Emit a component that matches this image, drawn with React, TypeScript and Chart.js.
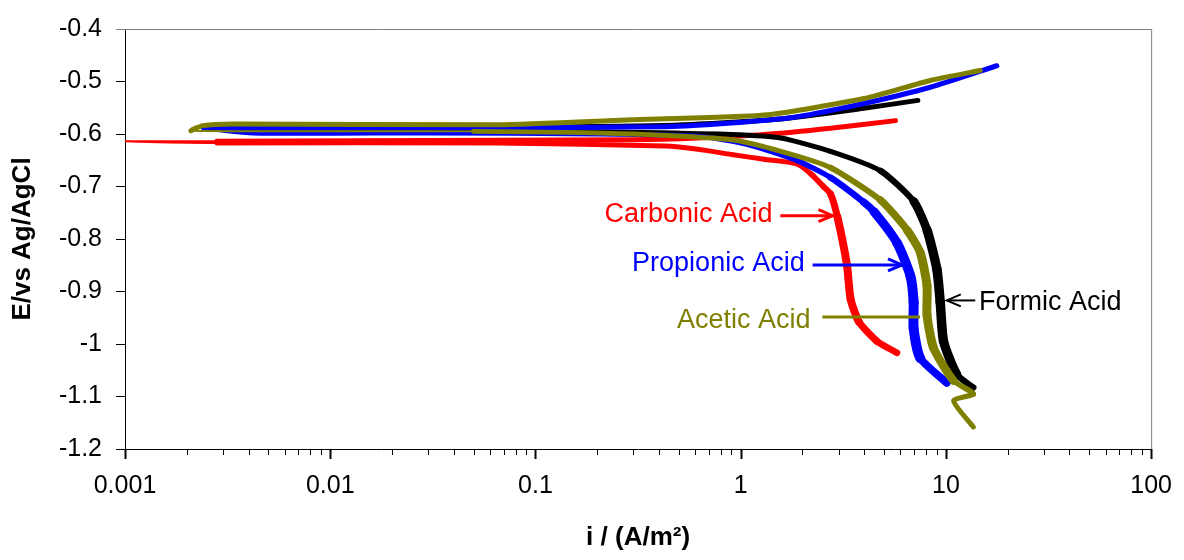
import React, { useEffect, useRef } from 'react';
import { Chart, registerables } from 'chart.js';

Chart.register(...registerables);

// ---- Data (current density i in A/m², potential E vs Ag/AgCl) ----
const acidNames = ['Acetic Acid', 'Propionic Acid', 'Formic Acid', 'Carbonic Acid'];

const aceticI = [13.6, 10.9, 13.6, 10.9, 8.71, 8.09, 8.09, 7.5, 6.47, 4.8, 2.74, 1.57, 0.9, 0.3, 0.05, 0.0021, 0.0024, 0.0034, 0.066, 0.294, 1.3, 3.98, 8.39, 14.7];
const aceticE = [-1.158, -1.108, -1.095, -1.07, -1.008, -0.945, -0.889, -0.826, -0.783, -0.726, -0.664, -0.633, -0.611, -0.6, -0.595, -0.594, -0.584, -0.581, -0.5825, -0.573, -0.564, -0.5325, -0.498, -0.479];

const propionicI = [10.1, 7.5, 6.96, 6.96, 6.71, 5.78, 4.46, 3.98, 2.74, 1.89, 1.08, 0.62, 0.2, 0.03, 0.0042, 0.0024, 0.0035, 0.05, 0.43, 0.9, 1.89, 3.98, 8.39, 17.7];
const propionicE = [-1.074, -1.027, -0.97, -0.92, -0.87, -0.8075, -0.748, -0.73, -0.683, -0.651, -0.62, -0.6045, -0.6, -0.598, -0.598, -0.588, -0.588, -0.588, -0.586, -0.579, -0.567, -0.542, -0.511, -0.47];

const formicI = [13.6, 11.3, 9.74, 9.38, 9.04, 8.09, 6.96, 4.8, 2.74, 1.57, 0.9, 0.3, 0.05, 0.0035, 0.01, 0.1, 0.5, 1.5, 3.98, 7.3];
const formicE = [-1.083, -1.058, -0.995, -0.92, -0.858, -0.783, -0.728, -0.67, -0.633, -0.6075, -0.601, -0.597, -0.592, -0.59, -0.589, -0.587, -0.583, -0.572, -0.551, -0.536];

const carbonicI = [5.78, 4.62, 3.77, 3.43, 3.3, 2.96, 2.74, 2.53, 2.2, 1.89, 1.3, 0.9, 0.62, 0.43, 0.066, 0.0028, 0.0009, 0.0028, 0.066, 0.3, 0.62, 1.3, 2.74, 5.68];
const carbonicE = [-1.017, -0.995, -0.958, -0.914, -0.851, -0.758, -0.714, -0.7, -0.676, -0.657, -0.648, -0.639, -0.629, -0.623, -0.617, -0.617, -0.614, -0.614, -0.612, -0.611, -0.6075, -0.601, -0.589, -0.5745];

// Axis ticks
const xDecades = [0.001, 0.01, 0.1, 1, 10];
const xMajorLabels = ['0.001', '0.01', '0.1', '1', '10', '100'];
const xMajorValues = [0.001, 0.01, 0.1, 1, 10, 100];
const yTickValues = [-1.2, -1.1, -1.0, -0.9, -0.8, -0.7, -0.6, -0.5, -0.4];

// Annotation labels: text anchor (i, E), arrow tail/tip i, arrow E
const labelTexts = ['Carbonic Acid', 'Propionic Acid', 'Acetic Acid', 'Formic Acid'];
const labelTextI = [1.43, 2.05, 2.19, 14.5];
const labelTextE = [-0.767, -0.8615, -0.97, -0.936];
const arrowTailI = [1.56, 2.24, 2.5, 13.9];
const arrowTipI = [2.8, 6.11, 7.48, 10.1];
const arrowE = [-0.7557, -0.8495, -0.9484, -0.917];

const COLORS = ['#808000', '#0000FF', '#000000', '#FF0000'];
const LABEL_COLORS = ['#FF0000', '#0000FF', '#808000', '#000000'];
const LABEL_ALIGN: CanvasTextAlign[] = ['right', 'right', 'right', 'left'];
const LABEL_HEAD = [true, true, false, true];

const FONT = '"Liberation Sans", Arial, Helvetica, sans-serif';

function buildXTicks(): number[] {
  const out: number[] = [];
  for (const d of xDecades) {
    for (let m = 1; m <= 9; m++) out.push(Number((m * d).toPrecision(3)));
  }
  out.push(100);
  return out;
}

const framePlugin = {
  id: 'frameAndTicks',
  afterDraw(chart: any) {
    const { ctx, chartArea, scales } = chart;
    const x = scales.x;
    ctx.save();
    ctx.strokeStyle = '#808080';
    ctx.lineWidth = 1;
    ctx.beginPath();
    ctx.moveTo(chartArea.left, chartArea.top + 0.5);
    ctx.lineTo(chartArea.right + 0.5, chartArea.top + 0.5);
    ctx.lineTo(chartArea.right + 0.5, chartArea.bottom);
    ctx.stroke();
    ctx.strokeStyle = '#000000';
    for (const t of x.ticks) {
      const px = Math.round(x.getPixelForValue(t.value)) + 0.5;
      const isMajor = xMajorValues.some((v) => Math.abs(v - t.value) < v * 1e-6);
      ctx.lineWidth = isMajor ? 2 : 1;
      ctx.beginPath();
      ctx.moveTo(px, chartArea.bottom);
      ctx.lineTo(px, chartArea.bottom + (isMajor ? 10 : 6));
      ctx.stroke();
    }
    ctx.restore();
  },
};

const annotationPlugin = {
  id: 'acidLabels',
  afterDatasetsDraw(chart: any) {
    const { ctx, scales } = chart;
    const x = scales.x;
    const y = scales.y;
    ctx.save();
    labelTexts.forEach((text, k) => {
      const color = LABEL_COLORS[k];
      const ay = y.getPixelForValue(arrowE[k]);
      const x0 = x.getPixelForValue(arrowTailI[k]);
      const x1 = x.getPixelForValue(arrowTipI[k]);
      ctx.strokeStyle = color;
      ctx.lineWidth = k === 3 ? 2 : 3;
      ctx.lineCap = 'butt';
      ctx.beginPath();
      ctx.moveTo(x0, ay);
      ctx.lineTo(x1, ay);
      ctx.stroke();
      if (LABEL_HEAD[k]) {
        const dir = x1 > x0 ? 1 : -1;
        ctx.beginPath();
        ctx.moveTo(x1 - dir * 14, ay - 6);
        ctx.lineTo(x1, ay);
        ctx.lineTo(x1 - dir * 14, ay + 6);
        ctx.stroke();
      }
      ctx.fillStyle = color;
      ctx.font = `27px ${FONT}`;
      ctx.textAlign = LABEL_ALIGN[k];
      ctx.textBaseline = 'alphabetic';
      ctx.fillText(text, x.getPixelForValue(labelTextI[k]), y.getPixelForValue(labelTextE[k]));
    });
    ctx.restore();
  },
};

function pts(xs: number[], ys: number[]) {
  return xs.map((v, i) => ({ x: v, y: ys[i] }));
}

function clamp01(v: number) {
  return Math.max(0, Math.min(1, v));
}

export default function App() {
  const ref = useRef<HTMLCanvasElement | null>(null);

  useEffect(() => {
    if (!ref.current) return;
    const series = [
      pts(aceticI, aceticE),
      pts(propionicI, propionicE),
      pts(formicI, formicE),
      pts(carbonicI, carbonicE),
    ];
    const thin = [
      (p0: any, p1: any) => p0.x < 0.06 && p1.x < 0.06 && p0.y <= -0.594 && p1.y <= -0.594,
      () => false,
      () => false,
      (p0: any, p1: any) => p0.x < 0.003 && p1.x < 0.003,
    ];
    const maxExtra = [4, 5, 4.5, 3];
    const segWidth = (k: number) => (c: any) => {
      const a = c.p0.parsed;
      const b = c.p1.parsed;
      if (thin[k](a, b)) return 2;
      const dx = c.p1.x - c.p0.x;
      const dy = c.p1.y - c.p0.y;
      const len = Math.hypot(dx, dy) || 1;
      const s = Math.abs(dy) / len;
      const e = (a.y + b.y) / 2;
      const f = clamp01((-0.65 - e) / 0.12) * clamp01((e + 1.1) / 0.06);
      return 5 + maxExtra[k] * s * f;
    };
    const xTicks = buildXTicks();
    const chart = new Chart(ref.current, {
      type: 'scatter',
      data: {
        datasets: series.map((d, k) => ({
          label: acidNames[k],
          data: d,
          showLine: true,
          borderColor: COLORS[k],
          backgroundColor: COLORS[k],
          borderWidth: 5,
          pointRadius: 0,
          tension: 0.2,
          borderJoinStyle: 'round',
          borderCapStyle: 'round',
          segment: {
            borderWidth: segWidth(k),
          },
        })),
      },
      options: {
        responsive: false,
        animation: false,
        events: [],
        layout: { padding: { left: 0, right: 29, top: 23, bottom: 0 } },
        plugins: {
          legend: { display: false },
          tooltip: { enabled: false },
        },
        scales: {
          x: {
            type: 'logarithmic',
            min: 0.001,
            max: 100,
            afterBuildTicks: (s: any) => {
              s.ticks = xTicks.map((v) => ({ value: v }));
            },
            afterFit: (s: any) => {
              s.height = 111;
            },
            ticks: {
              autoSkip: false,
              maxRotation: 0,
              minRotation: 0,
              padding: 12,
              color: '#000',
              font: { family: FONT, size: 25 },
              callback: (value: any) => {
                const v = Number(value);
                const idx = xMajorValues.findIndex((m) => Math.abs(m - v) < m * 1e-6);
                return idx >= 0 ? xMajorLabels[idx] : '';
              },
            },
            grid: { display: false, drawTicks: true, tickLength: 10 },
            border: { display: true, color: '#000', width: 1 },
            title: {
              display: true,
              text: 'i / (A/m²)',
              color: '#000',
              font: { family: FONT, size: 26, weight: 'bold' },
              padding: { top: 0, bottom: 7 },
            },
          },
          y: {
            type: 'linear',
            min: -1.2,
            max: -0.4,
            afterBuildTicks: (s: any) => {
              s.ticks = yTickValues.map((v) => ({ value: v }));
            },
            afterFit: (s: any) => {
              s.width = 125;
            },
            ticks: {
              padding: 14,
              color: '#000',
              font: { family: FONT, size: 25 },
              callback: (value: any) => String(Math.round(Number(value) * 10) / 10),
            },
            grid: {
              display: true,
              drawOnChartArea: false,
              drawTicks: true,
              tickLength: 9,
              tickColor: (c: any) => (c.tick && Math.abs(c.tick.value + 0.4) < 1e-9 ? '#808080' : '#000'),
            },
            border: { display: true, color: '#000', width: 1 },
            title: {
              display: true,
              text: 'E/vs Ag/AgCl',
              color: '#000',
              font: { family: FONT, size: 26, weight: 'bold' },
              padding: { top: 7, bottom: 0 },
            },
          },
        },
      } as any,
      plugins: [annotationPlugin, framePlugin],
    });
    return () => chart.destroy();
  }, []);

  return (
    <div style={{ position: 'fixed', left: 0, top: 0, width: 1184, height: 560, background: '#fff' }}>
      <canvas ref={ref} width={1184} height={560} style={{ width: 1184, height: 560, display: 'block' }} />
    </div>
  );
}
